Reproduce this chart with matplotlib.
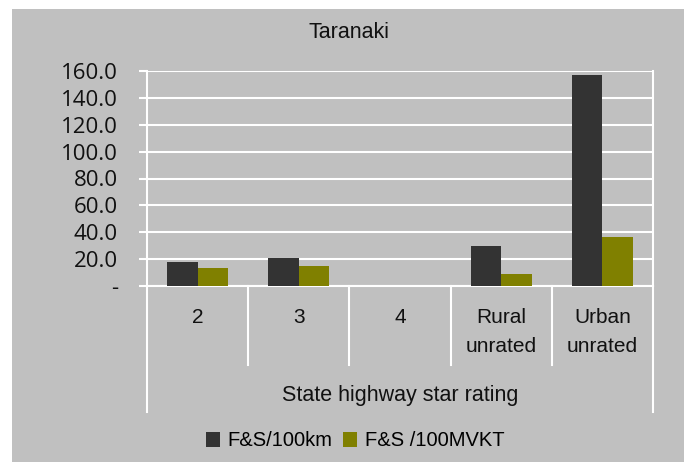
import matplotlib.pyplot as plt
import matplotlib.ticker as mticker
from matplotlib.patches import Rectangle, Patch
from matplotlib.lines import Line2D
import numpy as np

# Data
categories = ["2", "3", "4", "Rural\nunrated", "Urban\nunrated"]
fs_per_100km = [18.0, 20.8, 0.0, 29.8, 157.0]
fs_per_100mvkt = [13.4, 14.9, 0.0, 8.9, 36.5]
series_names = ["F&S/100km", "F&S /100MVKT"]
y_ticks = [0, 20, 40, 60, 80, 100, 120, 140, 160]

BG = "#C0C0C0"
C_DARK = "#333333"
C_OLIVE = "#808000"
FONT = "Liberation Sans"

W, H = 688, 462
fig = plt.figure(figsize=(W / 100, H / 100), dpi=100, facecolor="white")

# grey chart area (behind the axes)
fig.patches.append(Rectangle((12 / W, 0), (684 - 12) / W, (H - 9) / H,
                             transform=fig.transFigure, facecolor=BG,
                             edgecolor="none", zorder=-10))

x0, x1, y_top, y_zero = 147, 653, 71, 286
ax = fig.add_axes([x0 / W, (H - y_zero) / H, (x1 - x0) / W, (y_zero - y_top) / H])
ax.set_facecolor(BG)

x = np.arange(len(categories))
bw = 0.3
ax.bar(x - bw / 2, fs_per_100km, bw, color=C_DARK, zorder=3)
ax.bar(x + bw / 2, fs_per_100mvkt, bw, color=C_OLIVE, zorder=3)

ax.set_xlim(-0.5, len(categories) - 0.5)
ax.set_ylim(0, 160)
ax.set_yticks(y_ticks)
ax.yaxis.set_major_formatter(mticker.FuncFormatter(
    lambda v, p: "-" if v == 0 else f"{v:.1f}"))
ax.grid(axis="y", color="white", linewidth=1.5, zorder=1)
ax.set_axisbelow(True)
ax.tick_params(axis="y", direction="out", length=6, width=1.5, color="white",
               pad=15, labelsize=16, labelcolor="#111111",
               labelfontfamily="Open Sans")

ax.set_xticks(x)
ax.set_xticklabels(categories, fontsize=15, family=FONT, color="#111111",
                   linespacing=1.62)
ax.tick_params(axis="x", length=0, pad=16)

ax.spines["top"].set_visible(False)
for side in ["left", "right", "bottom"]:
    ax.spines[side].set_color("white")
    ax.spines[side].set_linewidth(1.5)

# category dividers below the axis
ph = y_zero - y_top
short = -(365 - y_zero) / ph
long = -(412 - y_zero) / ph
for k in range(1, len(categories)):
    ax.add_line(Line2D([k / len(categories)] * 2, [0, short], transform=ax.transAxes,
                       color="white", linewidth=1.5, clip_on=False))
for xe in (0, 1):
    ax.add_line(Line2D([xe, xe], [0, long], transform=ax.transAxes,
                       color="white", linewidth=1.5, clip_on=False))

ax.text(0.5, -(395 - y_zero) / ph, "State highway star rating", transform=ax.transAxes,
        ha="center", va="center", fontsize=15.5, family=FONT, color="#111111")

fig.text(349 / W, 1 - 33 / H, "Taranaki", ha="center", va="center",
         fontsize=15.5, family=FONT, color="#111111")

handles = [Patch(facecolor=C_DARK), Patch(facecolor=C_OLIVE)]
fig.legend(handles, series_names, loc="center", bbox_to_anchor=(355 / W, 1 - 441 / H),
           ncol=2, frameon=False, handlelength=0.7, handleheight=0.7,
           handletextpad=0.4, columnspacing=0.5, prop={"family": FONT, "size": 14.5})

fig.savefig("out.png", dpi=100, facecolor="white")
